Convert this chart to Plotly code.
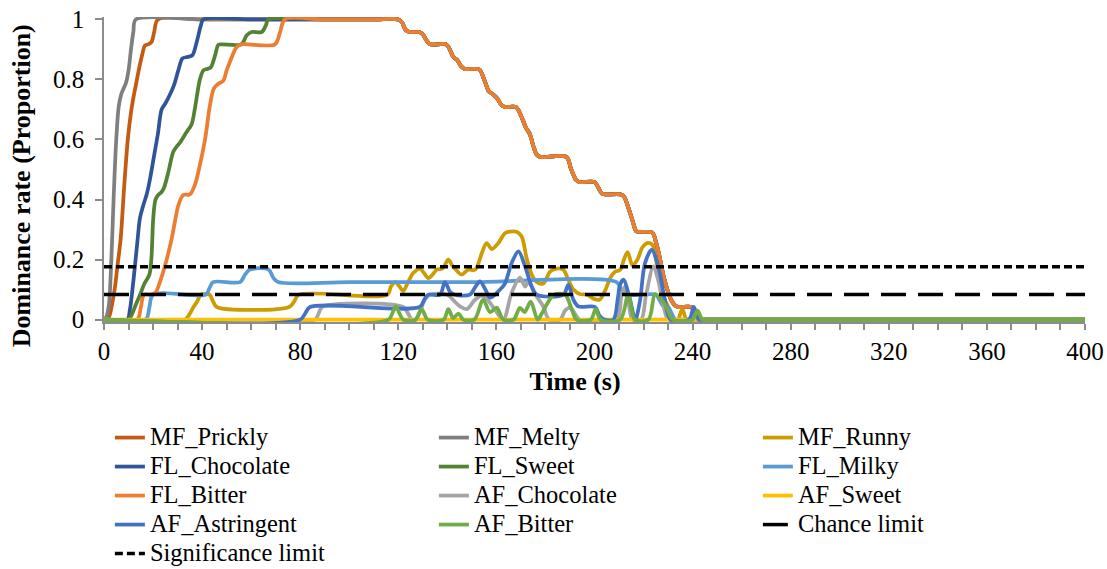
import plotly.graph_objects as go

# ---------------- data (time in s, dominance rate as proportion) ----------------
# shared plateau at 1 and the stepwise descent common to the curves that reach 1
descent_t = [120, 121.5, 123, 124.5, 128.5, 130, 131.5, 133, 139.5, 141, 142.4, 144, 145.5, 147, 153,
             155, 157, 159, 160.5, 162, 163.5, 168, 170, 172, 173.7, 175, 176.4, 177.8, 188.5, 190.5,
             192.5, 194, 200, 201.5, 203, 204.5, 210.5, 212, 213.5, 215.5, 217, 218.5, 223.5, 225,
             226.5, 228, 229.5, 231, 232.5, 234, 239.5, 240.5, 242, 244, 260, 400]
descent_v = [1.0, 0.99, 0.965, 0.958, 0.958, 0.95, 0.93, 0.917, 0.917, 0.9, 0.875, 0.865, 0.845, 0.835, 0.833,
             0.8, 0.76, 0.748, 0.735, 0.715, 0.708, 0.708, 0.68, 0.64, 0.617, 0.58, 0.55, 0.542, 0.542, 0.5,
             0.465, 0.458, 0.458, 0.44, 0.42, 0.417, 0.417, 0.41, 0.38, 0.33, 0.295, 0.292, 0.29, 0.26,
             0.21, 0.15, 0.105, 0.07, 0.05, 0.042, 0.042, 0.025, 0.0, 0.0, 0.0, 0.0]

mf_prickly_t = [0, 1.5, 2.5, 3.5, 4.5, 5.5, 6.8, 8.2, 9.7, 11, 12, 13.2, 14.4, 15.5, 16.7, 18, 19.4, 20.5, 22, 40, 80, 110]
mf_prickly_v = [0, 0, 0.02, 0.06, 0.11, 0.18, 0.27, 0.44, 0.6, 0.69, 0.74, 0.79, 0.84, 0.88, 0.913, 0.917, 0.925, 0.96, 1, 1, 1, 1]

mf_melty_t = [0, 1, 2, 3, 4, 5, 6, 7, 8, 9, 10, 11, 12, 13, 40, 80, 110]
mf_melty_v = [0, 0.01, 0.05, 0.2, 0.42, 0.6, 0.71, 0.75, 0.77, 0.79, 0.83, 0.9, 0.96, 1, 1, 1, 1]

mf_runny_t = [0, 33, 35, 36.5, 38, 39.5, 43, 44.5, 46, 75.5, 77.5, 79.5, 115.5, 117, 118.7, 120.5, 122, 124,
              126.1, 128.8, 130.5, 132.2, 134, 135.6, 138, 140.4, 142, 143.5, 145.8, 148.5, 151.3, 152.8,
              154, 156, 158.1, 160.8, 163.5, 165.5, 168.2, 170.3, 172.3, 174.4, 176.4, 179.1, 181.9,
              184.6, 187.3, 189.3, 191.4, 194, 197, 199.5, 202, 204.5, 206.5, 208.5, 210.5, 212, 213.5,
              215.5, 217.5, 219.5, 221.5, 223.5, 225.5, 227, 228.5, 230.5, 232.5, 234, 235.8, 237.5, 239, 260, 400]
mf_runny_v = [0, 0, 0.02, 0.042, 0.06, 0.083, 0.083, 0.06, 0.042, 0.042, 0.06, 0.083, 0.083, 0.11, 0.125, 0.11,
              0.095, 0.125, 0.155, 0.17, 0.155, 0.138, 0.15, 0.166, 0.17, 0.2, 0.18, 0.166, 0.15, 0.166,
              0.166, 0.19, 0.22, 0.255, 0.235, 0.255, 0.288, 0.293, 0.293, 0.277, 0.205, 0.15, 0.125,
              0.12, 0.16, 0.17, 0.166, 0.133, 0.1, 0.085, 0.083, 0.07, 0.066, 0.1, 0.14, 0.16, 0.166,
              0.2, 0.225, 0.18, 0.2, 0.24, 0.255, 0.25, 0.18, 0.12, 0.07, 0.035, 0.0, 0.0, 0.035, 0.0, 0, 0, 0]

fl_chocolate_t = [0, 9.5, 10.5, 12, 13.5, 14.7, 16, 17.5, 18.8, 20.5, 22, 23.5, 25, 26.9, 28.5, 30.3, 32, 34,
                  36, 37.8, 39.5, 40.5, 60, 90, 110]
fl_chocolate_v = [0, 0, 0.03, 0.13, 0.25, 0.34, 0.38, 0.42, 0.47, 0.55, 0.62, 0.7, 0.72, 0.75, 0.78, 0.83,
                  0.87, 0.875, 0.88, 0.925, 0.98, 1, 1, 1, 1]

fl_sweet_t = [0, 10, 11.5, 13, 14.7, 16.5, 18.5, 19.3, 20.1, 21, 22.1, 23.5, 24.5, 26.2, 28.3, 30, 31, 33.7,
              35.7, 37, 37.8, 39.1, 40.5, 42, 43.5, 45.3, 46.6, 48, 56, 58.2, 60.2, 64.3, 66, 67, 90, 110]
fl_sweet_v = [0, 0, 0.02, 0.05, 0.083, 0.12, 0.15, 0.2, 0.34, 0.4, 0.415, 0.425, 0.44, 0.49, 0.56, 0.58,
              0.59, 0.625, 0.65, 0.7, 0.74, 0.8, 0.83, 0.835, 0.84, 0.88, 0.915, 0.917, 0.917, 0.947,
              0.958, 0.958, 0.98, 1, 1, 1]

fl_milky_t = [0, 17, 18.5, 20, 41.5, 43, 44.5, 55.5, 57.5, 59.5, 67, 69, 71, 100, 150, 209, 211, 212.5, 225,
              226.5, 228, 230, 231.5, 233, 235, 260, 400]
fl_milky_v = [0, 0, 0.04, 0.083, 0.083, 0.105, 0.125, 0.125, 0.15, 0.167, 0.167, 0.14, 0.125, 0.125, 0.125,
              0.125, 0.1, 0.083, 0.083, 0.065, 0.045, 0.042, 0.02, 0, 0, 0, 0]

fl_bitter_t = [0, 13.5, 15, 16.3, 19, 21, 23, 24.9, 27.6, 29, 30.3, 32.3, 35, 37.1, 39.1, 41.2, 43.2, 44.8,
               46.5, 48.6, 50, 51.4, 54.1, 56, 69.7, 71.8, 73.8, 90, 110]
fl_bitter_v = [0, 0, 0.04, 0.083, 0.083, 0.09, 0.13, 0.18, 0.27, 0.33, 0.38, 0.415, 0.417, 0.45, 0.515, 0.6,
               0.714, 0.77, 0.785, 0.795, 0.83, 0.86, 0.908, 0.917, 0.917, 0.958, 1, 1, 1]

af_chocolate_t = [0, 86, 87.5, 89, 122, 124, 125.5, 127, 129, 131, 133, 140, 143, 145.2, 147.9, 151.3, 154,
                  156, 159.4, 162.8, 166.2, 169.6, 171.7, 173, 176.4, 179.1, 181.5, 186, 188, 190, 192,
                  194, 209, 211, 212.4, 214, 215.5, 219, 221, 224, 226, 228, 230, 232, 260, 400]
af_chocolate_v = [0, 0, 0.02, 0.042, 0.042, 0.02, 0, 0, 0.03, 0.07, 0.083, 0.083, 0.06, 0.044, 0.035, 0.066,
                  0.08, 0.07, 0.033, 0.0, 0.089, 0.14, 0.11, 0.125, 0.077, 0.044, 0, 0, 0.03, 0.04, 0.02,
                  0, 0, 0.08, 0.11, 0.05, 0, 0, 0.08, 0.177, 0.13, 0.05, 0, 0, 0, 0]

af_sweet_t = [0, 100, 200, 300, 400]
af_sweet_v = [0, 0, 0, 0, 0]

af_astringent_t = [0, 80, 82, 84, 128.8, 130.5, 132.2, 137, 139, 141, 143, 149.2, 151.5, 153.3, 155.5,
                   157.4, 159.4, 161.5, 163.5, 166.2, 169, 171.7, 174.4, 176.4, 187.3, 189.3, 191.4,
                   193.4, 200.2, 202.2, 204, 207.7, 209.5, 210.4, 211.8, 214.5, 216.6, 218.5, 220.6, 223.3,
                   226, 228.7, 231, 238.5, 240.5, 242.5, 245, 260, 400]
af_astringent_v = [0, 0, 0.02, 0.042, 0.042, 0.065, 0.083, 0.083, 0.125, 0.094, 0.083, 0.083, 0.11, 0.127,
                   0.1, 0.073, 0.083, 0.1, 0.12, 0.188, 0.227, 0.177, 0.11, 0.083, 0.083, 0.116, 0.066,
                   0.044, 0.042, 0.011, 0, 0, 0.07, 0.116, 0.133, 0.066, 0, 0.06, 0.188, 0.232,
                   0.177, 0.066, 0, 0, 0.042, 0, 0, 0, 0]

af_bitter_t = [0, 116, 117.5, 119, 120.5, 122, 127, 129.5, 132, 138.5, 140.4, 142.4, 144.5, 146.5, 151,
               154.6, 157.4, 160.1, 162.8, 167, 169.6, 171.5, 174, 176.8, 178.5, 180.5, 183.5, 188,
               190.7, 192.7, 198.5, 200.5, 202.5, 210.5, 213.8, 216.5, 222, 224.7, 227, 229.4, 232,
               240, 242, 244, 246, 260, 400]
af_bitter_v = [0, 0, 0.02, 0.044, 0.02, 0, 0, 0.035, 0, 0, 0.035, 0.005, 0.02, 0, 0, 0.066, 0.025, 0.04,
               0, 0, 0.039, 0.025, 0.06, 0, 0.02, 0.05, 0.083, 0.083, 0.035, 0, 0, 0.035, 0, 0, 0.085,
               0, 0, 0.085, 0.07, 0.039, 0, 0, 0.03, 0, 0, 0, 0]

limit_t = [0, 400]
chance_limit_v = [0.0833, 0.0833]
significance_limit_v = [0.1761, 0.1761]

series_names = ["MF_Prickly", "MF_Melty", "MF_Runny", "FL_Chocolate", "FL_Sweet", "FL_Milky",
                "FL_Bitter", "AF_Chocolate", "AF_Sweet", "AF_Astringent", "AF_Bitter"]
series_colors = ["#C55A11", "#7F7F7F", "#CC9C00", "#2F5597", "#548235", "#5B9BD5",
                 "#ED7D31", "#A5A5A5", "#FFC000", "#4472C4", "#70AD47"]

reaches_one = {"MF_Prickly", "MF_Melty", "FL_Chocolate", "FL_Sweet", "FL_Bitter"}
series_data = {
    "MF_Prickly": (mf_prickly_t, mf_prickly_v),
    "MF_Melty": (mf_melty_t, mf_melty_v),
    "MF_Runny": (mf_runny_t, mf_runny_v),
    "FL_Chocolate": (fl_chocolate_t, fl_chocolate_v),
    "FL_Sweet": (fl_sweet_t, fl_sweet_v),
    "FL_Milky": (fl_milky_t, fl_milky_v),
    "FL_Bitter": (fl_bitter_t, fl_bitter_v),
    "AF_Chocolate": (af_chocolate_t, af_chocolate_v),
    "AF_Sweet": (af_sweet_t, af_sweet_v),
    "AF_Astringent": (af_astringent_t, af_astringent_v),
    "AF_Bitter": (af_bitter_t, af_bitter_v),
}

FONT = "Liberation Serif, Times New Roman, serif"


def legend_label(text):
    return '<span style="font-size:24.5px">' + text + "</span>"


fig = go.Figure()
for name, color in zip(series_names, series_colors):
    t, v = series_data[name]
    if name in reaches_one:
        t = list(t) + descent_t
        v = list(v) + descent_v
    fig.add_trace(go.Scatter(
        x=t, y=v, mode="lines", name=legend_label(name),
        line=dict(color=color, width=3.75, shape="spline", smoothing=0.9),
    ))

fig.add_trace(go.Scatter(x=limit_t, y=chance_limit_v, mode="lines", name=legend_label("Chance limit"),
                         line=dict(color="#000000", width=3.5, dash="25px,12px")))
fig.add_trace(go.Scatter(x=limit_t, y=significance_limit_v, mode="lines",
                         name=legend_label("Significance limit"),
                         line=dict(color="#000000", width=3.5, dash="8px,4px")))

axis_col = "#8C8C8C"
fig.update_layout(
    width=1107, height=569,
    margin=dict(l=104, r=22, t=17, b=247, autoexpand=False),
    paper_bgcolor="white", plot_bgcolor="white",
    font=dict(family=FONT, size=24, color="#000000"),
    showlegend=True,
    legend=dict(
        orientation="h", xref="paper", yref="paper",
        x=0.006, y=-0.315, xanchor="left", yanchor="top",
        entrywidth=279, entrywidthmode="pixels",
        font=dict(family=FONT, size=20, color="#000000"),
        traceorder="normal", bgcolor="rgba(0,0,0,0)",
    ),
    xaxis=dict(
        range=[0, 400], tick0=0, dtick=40,
        showline=True, linecolor=axis_col, linewidth=1.5,
        ticks="outside", ticklen=6, tickcolor=axis_col, tickwidth=1.5,
        minor=dict(dtick=10, ticks="outside", ticklen=6, tickcolor=axis_col, tickwidth=1.5),
        showgrid=False, zeroline=False,
        tickfont=dict(family=FONT, size=25, color="#000000"),
        title=dict(text="<b>Time (s)</b>" + "&nbsp;" * 6,
                   font=dict(family=FONT, size=26, color="#000000"), standoff=8),
    ),
    yaxis=dict(
        range=[-0.008, 1.008], tick0=0, dtick=0.2,
        showline=True, linecolor=axis_col, linewidth=1.5,
        ticks="outside", ticklen=7, tickcolor=axis_col, tickwidth=1.5,
        ticklabelstandoff=6,
        showgrid=False, zeroline=False,
        tickfont=dict(family=FONT, size=25, color="#000000"),
        title=dict(text="<b>Dominance rate (Proportion)</b>" + "&nbsp;" * 5,
                   font=dict(family=FONT, size=26, color="#000000"), standoff=15),
    ),
)

fig.write_html("out.html")
